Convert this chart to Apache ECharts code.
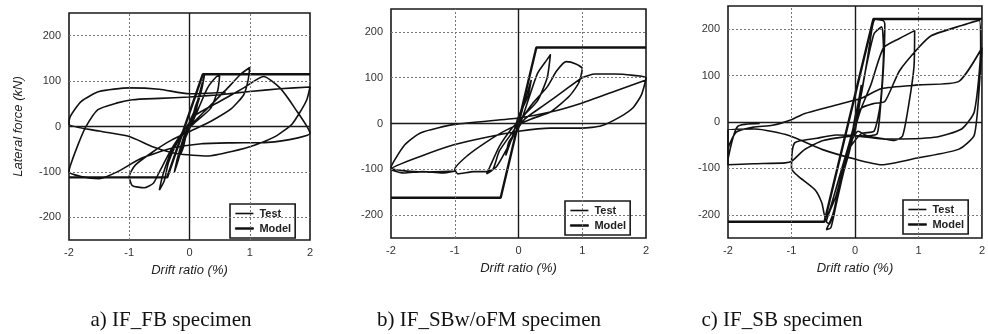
<!DOCTYPE html>
<html>
<head>
<meta charset="utf-8">
<script src="https://cdn.jsdelivr.net/npm/echarts@6/dist/echarts.min.js"></script>
<style>
  html, body { margin: 0; padding: 0; background: #fff; }
  #chart { width: 988px; height: 334px; }
</style>
</head>
<body>
<div id="chart"></div>
<script>
// drift ratio (%) , lateral force (kN)
var testA = [
  [0,0],[0.05,20],[0.1,45],[0.15,62],[0.1,30],[0,5],[-0.05,-15],[-0.1,-45],[-0.15,-62],[-0.1,-30],[0,0],
  [0.1,35],[0.2,80],[0.25,115],[0.2,90],[0.1,40],[0,10],[-0.1,-25],[-0.2,-70],[-0.25,-100],[-0.2,-80],[-0.1,-35],[0,-5],
  [0.15,40],[0.3,85],[0.45,110],[0.5,112],[0.47,80],[0.35,40],[0.1,10],[-0.1,-15],[-0.3,-55],[-0.45,-110],[-0.5,-140],[-0.42,-120],[-0.35,-80],[-0.2,-35],[0,0],
  [0.3,40],[0.6,80],[0.85,115],[1.0,130],[0.97,100],[0.9,70],[0.7,40],[0.4,15],[0.1,-5],[-0.3,-30],[-0.6,-55],[-0.9,-85],[-1.0,-110],[-0.95,-130],[-0.75,-135],[-0.6,-125],[-0.5,-100],[-0.3,-50],[-0.1,-10],
  [0.1,25],[0.5,55],[0.9,85],[1.23,110],[1.5,85],[1.75,40],[2.0,-15],[1.8,-25],[1.3,-35],[0.7,-36],[0.2,-38],[-0.3,-48],[-0.8,-70],[-1.2,-100],[-1.5,-115],[-1.8,-110],[-2.0,-100],
  [-1.98,-87],[-1.85,-40],[-1.73,-3],[-1.52,37],[-1.2,52],[-0.95,59],[-0.5,62],[0,65],[0.5,70],[1.0,77],[1.5,83],[2.0,87],
  [1.95,60],[1.85,35],[1.7,5],[1.45,-20],[1.1,-40],[0.7,-55],[0.3,-65],[-0.2,-60],[-0.6,-45],[-1.0,-22],[-1.5,-10],[-2.0,5],
  [-1.98,22],[-1.8,55],[-1.5,77],[-1.0,85],[-0.5,82],[0,72],[0.6,75]
];
var modelA = [[-2,-112],[-0.37,-112],[0.22,115],[2,115]];

var testB = [
  [0,0],[0.1,50],[0.2,95],[0.15,60],[0,15],[-0.1,-30],[-0.2,-70],[-0.15,-40],[0,-10],
  [0.15,50],[0.3,110],[0.45,140],[0.5,150],[0.45,100],[0.3,50],[0.1,20],[-0.1,-10],[-0.3,-50],[-0.45,-95],[-0.5,-110],[-0.4,-100],[-0.3,-60],[-0.1,-20],[0,0],
  [0.2,40],[0.45,80],[0.6,115],[0.75,135],[0.9,130],[1.0,120],[0.95,90],[0.8,60],[0.5,25],[0.2,10],[-0.2,-15],[-0.5,-40],[-0.8,-70],[-1.0,-100],[-0.95,-110],[-0.7,-105],[-0.5,-105],[-0.35,-95],[-0.2,-60],[-0.05,-20],[0.1,10],
  [0.4,40],[0.7,70],[1.0,100],[1.2,108],[1.5,108],[1.8,105],[2.0,100],[1.93,63],[1.8,35],[1.6,15],[1.3,-5],[1.0,-10],[0.5,-10],[0,-17],[-0.5,-30],[-1.0,-46],[-1.5,-70],[-2.0,-100],
  [-1.8,-108],[-1.5,-105],[-1.2,-108],[-1.0,-104],[-1.5,-106],[-2.0,-96],
  [-1.78,-46],[-1.53,-20],[-1.0,-2],[0,12],[0.5,25],[1.0,45],[1.5,70],[2.0,95]
];
var modelB = [[-2,-162],[-0.28,-162],[0.28,166],[2,166]];

var testC = [
  [0,0],[0.05,40],[0.1,80],[0.05,40],[0,10],[-0.05,-30],[-0.1,-70],[-0.05,-30],[0,0],
  [0.1,60],[0.2,140],[0.28,210],[0.32,222],[0.45,218],[0.47,210],[0.45,120],[0.4,30],[0.35,-25],[0.2,-30],[0.05,-20],[-0.05,-40],[-0.2,-120],[-0.35,-200],[-0.45,-232],[-0.38,-228],[-0.3,-180],[-0.2,-120],[-0.1,-60],[0,-20],[0.05,20],
  [0.15,100],[0.3,190],[0.42,205],[0.45,150],[0.4,40],[0.3,-20],[0.1,-25],[-0.1,-60],[-0.3,-160],[-0.45,-215],[-0.4,-220],[-0.25,-140],[-0.1,-70],[0,-15],
  [0.1,30],[0.25,80],[0.45,160],[0.7,180],[0.94,197],[0.93,120],[0.85,40],[0.75,-30],[0.62,-40],[0.4,-35],[0.1,-30],[-0.3,-28],[-0.6,-35],[-0.95,-45],[-1.0,-100],[-0.9,-116],[-0.63,-146],[-0.52,-175],[-0.47,-205],[-0.4,-190],[-0.25,-120],[-0.1,-50],[0,0],
  [0.1,30],[0.3,40],[0.47,44],[0.7,110],[1.0,160],[1.2,186],[1.68,208],[1.96,219],[1.98,160],[1.88,22],[1.68,-15],[1.25,-33],[0.47,-37],[0,-30],[-0.5,-40],[-0.8,-60],[-1.0,-85],[-1.1,-88],[-1.6,-90],[-2.0,-92],
  [-2.0,-60],[-1.87,-22],[-1.6,-11],[-1.3,-7],[-1.0,5],[-0.8,18],[-0.4,33],[0.1,51],[0.42,72],[1.0,80],[1.63,87],[2.0,160],
  [1.97,100],[1.88,-28],[1.63,-59],[1.0,-77],[0.42,-92],[0.03,-81],[-0.52,-59],[-1.04,-29],[-1.57,-15],[-2.0,-17],[-2.0,-80],[-1.85,-10],[-1.5,-3]
];
var modelC = [[-2,-215],[-0.48,-215],[0.29,222],[2,222]];

var yGrid = [-200, -100, 100, 200];
var xGrid = [-1, 1];
var captions = ['a) IF_FB specimen', 'b) IF_SBw/oFM specimen', 'c) IF_SB specimen'];

var myChart = echarts.init(document.getElementById('chart'));

var grids = [
  { left: 69, top: 13, width: 241, height: 227 },
  { left: 391, top: 9, width: 255, height: 229 },
  { left: 728, top: 6, width: 255, height: 232 }
];
var legendPos = [
  { left: 230, top: 204 },
  { left: 565, top: 201 },
  { left: 903, top: 200 }
];
var captionX = [166, 484, 777];
var tests = [testA, testB, testC];
var models = [modelA, modelB, modelC];

var gridLines = [];
yGrid.forEach(function (v) { gridLines.push({ yAxis: v }); });
xGrid.forEach(function (v) { gridLines.push({ xAxis: v }); });

var option = {
  backgroundColor: '#fff',
  animation: false,
  grid: grids.map(function (g) {
    return Object.assign({ show: true, borderColor: '#1a1a1a', borderWidth: 1.6, backgroundColor: '#fff' }, g);
  }),
  title: captions.map(function (c, i) {
    return {
      text: c,
      left: captionX[i],
      top: 305,
      textAlign: 'center',
      textStyle: { fontFamily: 'Liberation Serif', fontSize: 21, fontWeight: 'normal', color: '#111' }
    };
  }),
  legend: legendPos.map(function (p) {
    return {
      left: p.left, top: p.top,
      orient: 'vertical',
      icon: 'rect',
      data: [
        { name: 'Test' },
        { name: 'Model', itemStyle: { borderColor: '#111', borderWidth: 0.8 } }
      ],
      itemWidth: 18, itemHeight: 1.6, itemGap: 4,
      padding: [4, 4, 4, 5],
      borderColor: '#1a1a1a', borderWidth: 1.6,
      backgroundColor: '#fff',
      selectedMode: false,
      textStyle: { fontFamily: 'Liberation Sans', fontSize: 11, fontWeight: 'bold', color: '#222', padding: [0, 0, 0, 1] }
    };
  }),
  xAxis: grids.map(function (g, i) {
    return {
      type: 'value', gridIndex: i, min: -2, max: 2, interval: 1,
      axisLine: { show: false, onZero: false }, axisTick: { show: false }, splitLine: { show: false },
      axisLabel: { margin: 7, fontFamily: 'Liberation Sans', fontSize: 11, color: '#333' },
      name: 'Drift ratio (%)', nameLocation: 'middle', nameGap: 24,
      nameTextStyle: { fontFamily: 'Liberation Sans', fontStyle: 'italic', fontSize: 13, color: '#222' }
    };
  }),
  yAxis: grids.map(function (g, i) {
    return {
      type: 'value', gridIndex: i, min: -250, max: 250, interval: 50,
      axisLine: { show: false, onZero: false }, axisTick: { show: false }, splitLine: { show: false },
      axisLabel: {
        margin: 8, fontFamily: 'Liberation Sans', fontSize: 11, color: '#333',
        formatter: function (v) { return (v % 100 === 0 && Math.abs(v) < 250) ? String(v) : ''; }
      },
      name: i === 0 ? 'Lateral force (kN)' : '', nameLocation: 'middle', nameGap: 44,
      nameTextStyle: { fontFamily: 'Liberation Sans', fontStyle: 'italic', fontSize: 13, color: '#222' }
    };
  }),
  series: []
};

grids.forEach(function (g, i) {
  option.series.push({
    name: 'Test', type: 'line', xAxisIndex: i, yAxisIndex: i,
    data: tests[i], smooth: 0.2, symbol: 'none',
    lineStyle: { color: '#111', width: 1.6 }, itemStyle: { color: '#111' },
    markLine: {
      silent: true, symbol: 'none', label: { show: false },
      lineStyle: { color: '#777', type: [2, 2], width: 1 },
      data: gridLines.concat([
        { yAxis: 0, lineStyle: { color: '#1a1a1a', type: 'solid', width: 1.4 } },
        { xAxis: 0, lineStyle: { color: '#1a1a1a', type: 'solid', width: 1.4 } }
      ])
    },
    z: 3
  });
  option.series.push({
    name: 'Model', type: 'line', xAxisIndex: i, yAxisIndex: i,
    data: models[i], symbol: 'none',
    lineStyle: { color: '#111', width: 2.4 }, itemStyle: { color: '#111' },
    z: 4
  });
});

myChart.setOption(option);
</script>
</body>
</html>
